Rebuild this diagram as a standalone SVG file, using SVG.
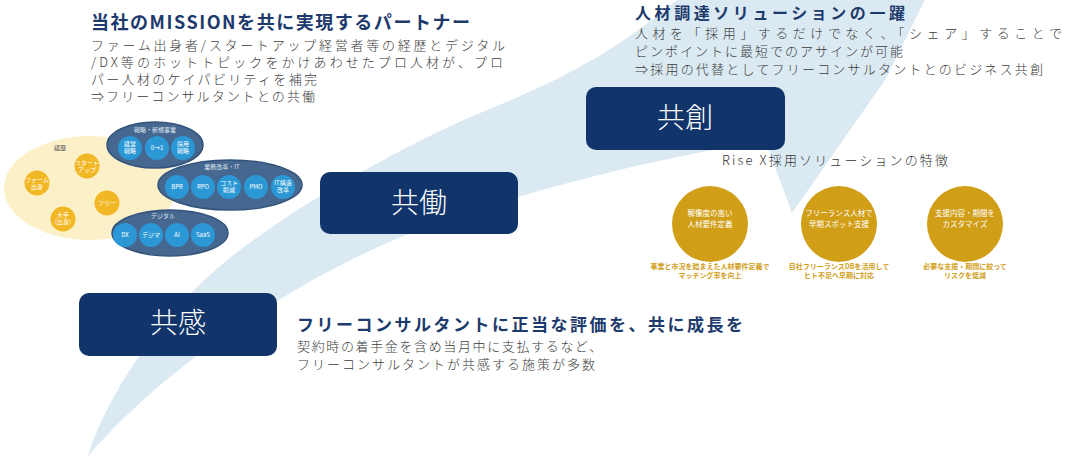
<svg xmlns="http://www.w3.org/2000/svg" width="1071" height="458" viewBox="0 0 1071 458">
<style>
.jp{font-family:'Noto Sans CJK JP','Noto Sans',sans-serif}
.ttl{font-family:'Noto Sans CJK JP',sans-serif;font-weight:700;fill:#1d3a6c}
.body{font-family:'Noto Sans CJK JP',sans-serif;font-size:13px;font-weight:300;fill:#3c3c3c}
.box{fill:#11346a}
.boxt{font-family:'Noto Sans CJK JP',sans-serif;font-size:28px;font-weight:200;fill:#fff;text-anchor:middle}
.gold{fill:#d19e17}
.goldt{font-family:'Noto Sans CJK JP',sans-serif;font-size:7.5px;fill:#fff;text-anchor:middle}
.cap{font-family:'Noto Sans CJK JP',sans-serif;font-size:7px;font-weight:700;fill:#d19e17;text-anchor:middle}
.yc{fill:#f2b724}
.nv{fill:#46678f;stroke:#34547c;stroke-width:1.5}
.bc{fill:#2b98d5}
.wt{font-family:'Noto Sans CJK JP',sans-serif;font-size:6px;fill:#fff;text-anchor:middle}
.gl{font-family:'Noto Sans CJK JP',sans-serif;font-size:6px;fill:#dfe7f0;text-anchor:middle}
</style>
<rect width="1071" height="458" fill="#fff"/>
<g id="connectors">
<path d="M88,456 C105,400 160,310 240,250 C320,190 420,138 487,110 C560,80 620,52 700,-20 L935,-20 L885,80 L792,213 L765,140 C680,155 560,180 440,222 C330,260 180,350 88,456 Z" fill="#dae9f2"/>
</g>
<g id="text-mission">
<text class="ttl" x="91" y="29" font-size="18" textLength="379" lengthAdjust="spacing">当社のMISSIONを共に実現するパートナー</text>
<text class="body" x="91" y="50" textLength="414" lengthAdjust="spacing">ファーム出身者/スタートアップ経営者等の経歴とデジタル</text>
<text class="body" x="91" y="67" textLength="412" lengthAdjust="spacing">/DX等のホットトピックをかけあわせたプロ人材が、プロ</text>
<text class="body" x="91" y="84" textLength="226" lengthAdjust="spacing">パー人材のケイパビリティを補完</text>
<text class="body" x="91" y="101" textLength="224" lengthAdjust="spacing">⇒フリーコンサルタントとの共働</text>
</g>
<g id="text-solution">
<text class="ttl" x="635" y="19" font-size="16" textLength="270" lengthAdjust="spacing">人材調達ソリューションの一躍</text>
<text class="body" x="635" y="38" textLength="427" lengthAdjust="spacing">人材を「採用」するだけでなく、「シェア」することで</text>
<text class="body" x="635" y="56" textLength="268" lengthAdjust="spacing">ピンポイントに最短でのアサインが可能</text>
<text class="body" x="635" y="74" textLength="408" lengthAdjust="spacing">⇒採用の代替としてフリーコンサルタントとのビジネス共創</text>
</g>
<g id="text-kyokan">
<text class="ttl" x="297" y="331" font-size="17" textLength="446" lengthAdjust="spacing">フリーコンサルタントに正当な評価を、共に成長を</text>
<text class="body" x="297" y="351" textLength="305" lengthAdjust="spacing">契約時の着手金を含め当月中に支払するなど、</text>
<text class="body" x="297" y="369" textLength="298" lengthAdjust="spacing">フリーコンサルタントが共感する施策が多数</text>
</g>
<g id="node-kyoso">
<rect class="box" x="586" y="87" width="199" height="63" rx="10"/>
<text class="boxt" x="685" y="128">共創</text>
</g>
<g id="node-kyodo">
<rect class="box" x="320" y="172" width="198" height="62" rx="10"/>
<text class="boxt" x="419" y="213">共働</text>
</g>
<g id="node-kyokan">
<rect class="box" x="79" y="293" width="198" height="63" rx="10"/>
<text class="boxt" x="178" y="333">共感</text>
</g>
<g id="cluster">
<ellipse cx="90" cy="188" rx="86" ry="52" fill="#fbf0c8"/>
<text x="60" y="150" font-size="6" fill="#555" text-anchor="middle" class="jp">経歴</text>
<circle class="yc" cx="37" cy="183" r="12.5"/>
<text class="wt" x="37" y="182">ファーム</text><text class="wt" x="37" y="189">出身</text>
<circle class="yc" cx="87" cy="166" r="12.5"/>
<text class="wt" x="87" y="165">スタート</text><text class="wt" x="87" y="172">アップ</text>
<circle class="yc" cx="107" cy="203" r="12.5"/>
<text class="wt" x="107" y="205">フリー</text>
<circle class="yc" cx="63" cy="219" r="12.5"/>
<text class="wt" x="63" y="217">大手</text><text class="wt" x="63" y="224">(出身)</text>
<ellipse class="nv" cx="155" cy="145" rx="48" ry="23"/>
<text class="gl" x="155" y="132">戦略・新規事業</text>
<circle class="bc" cx="130" cy="148" r="12"/><text class="wt" x="130" y="146">経営</text><text class="wt" x="130" y="153">戦略</text>
<circle class="bc" cx="157" cy="148" r="12"/><text class="wt" x="157" y="150">0→1</text>
<circle class="bc" cx="183" cy="148" r="12"/><text class="wt" x="183" y="146">採用</text><text class="wt" x="183" y="153">戦略</text>
<ellipse class="nv" cx="230" cy="185" rx="72" ry="25"/>
<text class="gl" x="222" y="169">業務改革・IT</text>
<circle class="bc" cx="177" cy="187" r="12"/><text class="wt" x="177" y="189">BPR</text>
<circle class="bc" cx="203" cy="187" r="12"/><text class="wt" x="203" y="189">RPO</text>
<circle class="bc" cx="229" cy="187" r="12"/><text class="wt" x="229" y="185">コスト</text><text class="wt" x="229" y="192">削減</text>
<circle class="bc" cx="256" cy="187" r="12"/><text class="wt" x="256" y="189">PMO</text>
<circle class="bc" cx="283" cy="187" r="12"/><text class="wt" x="283" y="185">IT構造</text><text class="wt" x="283" y="192">改革</text>
<ellipse class="nv" cx="170" cy="233" rx="58" ry="23"/>
<text class="gl" x="163" y="218">デジタル</text>
<circle class="bc" cx="125" cy="235" r="12"/><text class="wt" x="125" y="237">DX</text>
<circle class="bc" cx="151" cy="235" r="12"/><text class="wt" x="151" y="237">デジマ</text>
<circle class="bc" cx="177" cy="235" r="12"/><text class="wt" x="177" y="237">AI</text>
<circle class="bc" cx="203" cy="235" r="12"/><text class="wt" x="203" y="237">SaaS</text>
</g>
<g id="features">
<text class="jp" x="722" y="165" font-size="13" font-weight="300" fill="#333" textLength="226" lengthAdjust="spacing">Rise X採用ソリューションの特徴</text>
</g>
<g id="feature-1">
<circle class="gold" cx="710" cy="224" r="38"/>
<text class="goldt" x="710" y="216">解像度の高い</text>
<text class="goldt" x="710" y="227">人材要件定義</text>
<text class="cap" x="710" y="269">事業と市況を踏まえた人材要件定義で</text>
<text class="cap" x="710" y="278">マッチング率を向上</text>
</g>
<g id="feature-2">
<circle class="gold" cx="839" cy="224" r="38"/>
<text class="goldt" x="839" y="216">フリーランス人材で</text>
<text class="goldt" x="839" y="227">早期スポット支援</text>
<text class="cap" x="839" y="269">自社フリーランスDBを活用して</text>
<text class="cap" x="839" y="278">ヒト不足へ早期に対応</text>
</g>
<g id="feature-3">
<circle class="gold" cx="965" cy="224" r="38"/>
<text class="goldt" x="965" y="216">支援内容・期間を</text>
<text class="goldt" x="965" y="227">カスタマイズ</text>
<text class="cap" x="965" y="269">必要な支援・期間に絞って</text>
<text class="cap" x="965" y="278">リスクを低減</text>
</g>
</svg>
